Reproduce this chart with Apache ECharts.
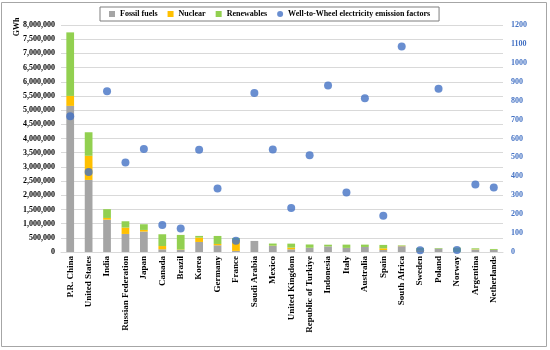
<!DOCTYPE html>
<html>
<head>
<meta charset="utf-8">
<script src="https://cdn.jsdelivr.net/npm/echarts@6/dist/echarts.min.js"></script>
<style>html,body{margin:0;padding:0;background:#fff}#c{width:550px;height:350px}</style>
</head>
<body>
<div id="c"></div>
<script>
var categories = ['P.R. China','United States','India','Russian Federation','Japan','Canada','Brazil','Korea','Germany','France','Saudi Arabia','Mexico','United Kingdom','Republic of Turkiye','Indonesia','Italy','Australia','Spain','South Africa','Sweden','Poland','Norway','Argentina','Netherlands'];
var fossil = [5150000,2540000,1140000,636000,720000,95000,72000,354000,236000,40000,390000,213000,95000,150000,195000,145000,178000,70000,205000,5000,120000,3000,85000,72000];
var nuclear = [350000,850000,60000,224000,58000,115000,15000,153000,47000,390000,0,10000,60000,0,0,0,0,60000,12000,50000,0,0,10000,4000];
var renewables = [2240000,830000,310000,223000,200000,415000,515000,60000,283000,65000,0,75000,140000,115000,62000,115000,82000,120000,18000,90000,22000,150000,35000,31000];
var emission = [718,423,850,473,544,143,124,541,336,60,840,542,233,512,880,314,813,191,1087,9,863,11,357,341];

var FONT = 'Liberation Serif';
var chart = echarts.init(document.getElementById('c'));
chart.setOption({
  animation: false,
  backgroundColor: '#fff',
  grid: {left: 61, right: 47, top: 25, bottom: 98},
  legend: {
    top: 7, left: 100,
    borderColor: '#7f7f7f', borderWidth: 1, padding: [3, 9, 3, 9],
    itemGap: 10, itemWidth: 6, itemHeight: 6,
    textStyle: {fontFamily: FONT, fontWeight: 'bold', fontSize: 8, color: '#000'},
    data: [
      {name: 'Fossil fuels', icon: 'rect'},
      {name: 'Nuclear', icon: 'rect'},
      {name: 'Renewables', icon: 'rect'},
      {name: 'Well-to-Wheel electricity emission factors', icon: 'circle'}
    ]
  },
  xAxis: {
    type: 'category', data: categories,
    axisLine: {lineStyle: {color: '#d9d9d9'}},
    axisTick: {show: false},
    axisLabel: {rotate: 90, interval: 0, margin: 4, fontFamily: FONT, fontWeight: 'bold', fontSize: 9, color: '#000'}
  },
  yAxis: [{
    type: 'value', min: 0, max: 8000000, interval: 500000,
    axisLine: {show: false}, axisTick: {show: false},
    splitLine: {lineStyle: {color: '#d9d9d9'}},
    axisLabel: {margin: 6, fontFamily: FONT, fontWeight: 'bold', fontSize: 8, color: '#000',
      formatter: function (v) { return v.toLocaleString('en-US'); }}
  }, {
    type: 'value', min: 0, max: 1200, interval: 100,
    axisLine: {show: false}, axisTick: {show: false}, splitLine: {show: false},
    axisLabel: {margin: 8, fontFamily: FONT, fontWeight: 'bold', fontSize: 8, color: '#4472C4',
      formatter: function (v) { return String(v); }}
  }],
  series: [
    {name: 'Fossil fuels', type: 'bar', stack: 'g', data: fossil, barWidth: '42%', itemStyle: {color: '#A5A5A5'}},
    {name: 'Nuclear', type: 'bar', stack: 'g', data: nuclear, itemStyle: {color: '#FFC000'}},
    {name: 'Renewables', type: 'bar', stack: 'g', data: renewables, itemStyle: {color: '#92D050'}},
    {name: 'Well-to-Wheel electricity emission factors', type: 'scatter', yAxisIndex: 1, data: emission,
     symbolSize: 8, itemStyle: {color: '#4472C4'}, z: 5}
  ],
  graphic: [
    {type: 'rect', shape: {x: 1.5, y: 2.5, width: 545, height: 344}, style: {fill: 'none', stroke: '#a6a6a6', lineWidth: 1}, silent: true},
    {type: 'text', x: 17, y: 27, rotation: Math.PI / 2,
     style: {text: 'GWh', fontFamily: FONT, fontWeight: 'bold', fontSize: 8, fill: '#000', align: 'center', verticalAlign: 'middle'}}
  ]
});
</script>
</body>
</html>
